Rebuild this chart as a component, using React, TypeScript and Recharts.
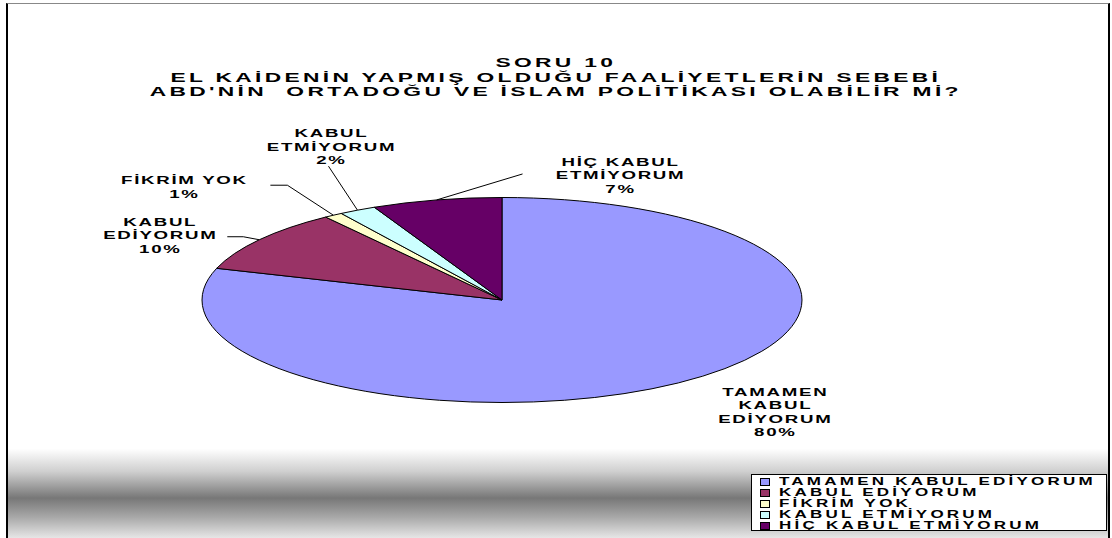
import React from 'react';
import { PieChart, Pie, Cell, Legend } from 'recharts';

const categories = [
  'TAMAMEN KABUL EDİYORUM',
  'KABUL EDİYORUM',
  'FİKRİM YOK',
  'KABUL ETMİYORUM',
  'HİÇ KABUL ETMİYORUM',
];
const values = [80, 10, 1, 2, 7];
const labelLines = [
  ['TAMAMEN', 'KABUL', 'EDİYORUM'],
  ['KABUL', 'EDİYORUM'],
  ['FİKRİM YOK'],
  ['KABUL', 'ETMİYORUM'],
  ['HİÇ KABUL', 'ETMİYORUM'],
];
const titleLines = [
  'SORU 10',
  'EL KAİDENİN YAPMIŞ OLDUĞU FAALİYETLERİN SEBEBİ',
  "ABD'NİN  ORTADOĞU VE İSLAM POLİTİKASI OLABİLİR Mİ?",
];
const colors = ['#9999FF', '#993366', '#FFFFCC', '#CCFFFF', '#660066'];

const data = categories.map((name, i) => ({ name, value: values[i] }));

const FONT = "'Liberation Sans', Arial, Helvetica, sans-serif";
const TILT = 0.3417;
const LABEL_SX = 1.7;
const LABEL_LS = 1;
const LABEL_FS = 11;
const LABEL_PITCH = 13.4;
const RAD = Math.PI / 180;

// label placement relative to the slice's mid-angle anchor on the ellipse edge
const labelLayout = [
  { dx: 97, dy: 13, leader: [] as number[][] },
  { dx: -99, dy: -14, leader: [[-16, -3], [-32, -3]] },
  { dx: -149, dy: -31, leader: [[-46, -30], [-63, -30]] },
  { dx: -26, dy: -73, leader: [[-29, -44]] },
  { dx: 184, dy: -34, leader: [[86, -26]] },
];

function ePoint(cx: number, cy: number, rx: number, ry: number, deg: number) {
  return [cx + rx * Math.cos(deg * RAD), cy - ry * Math.sin(deg * RAD)];
}

function SliceAndLabel(props: any) {
  const { cx, cy, outerRadius, startAngle, endAngle, midAngle, percent, index } = props;
  const rx = outerRadius;
  const ry = outerRadius * TILT;
  const [x1, y1] = ePoint(cx, cy, rx, ry, startAngle);
  const [x2, y2] = ePoint(cx, cy, rx, ry, endAngle);
  const large = Math.abs(endAngle - startAngle) > 180 ? 1 : 0;
  const sweep = endAngle < startAngle ? 1 : 0;
  const d = `M${cx},${cy} L${x1},${y1} A${rx},${ry} 0 ${large} ${sweep} ${x2},${y2} Z`;
  const [ax, ay] = ePoint(cx, cy, rx, ry, midAngle);
  const lay = labelLayout[index];
  const lines = [...labelLines[index], `${Math.round(percent * 100)}%`];
  const leaderPts = [[ax, ay], ...lay.leader.map(([dx, dy]) => [ax + dx, ay + dy])];
  return (
    <g>
      <path d={d} fill={colors[index]} stroke="#000" strokeWidth={1} strokeLinejoin="round" />
      {lay.leader.length > 0 && (
        <polyline
          points={leaderPts.map((p) => p.join(',')).join(' ')}
          fill="none"
          stroke="#000"
          strokeWidth={1}
        />
      )}
      {lines.map((t, k) => (
        <text
          key={k}
          x={0}
          y={0}
          transform={`translate(${ax + lay.dx},${ay + lay.dy + k * LABEL_PITCH}) scale(${LABEL_SX},1)`}
          textAnchor="middle"
          fontFamily={FONT}
          fontWeight="bold"
          fontSize={LABEL_FS}
          letterSpacing={LABEL_LS}
          fill="#000"
          stroke="none"
        >
          {t}
        </text>
      ))}
    </g>
  );
}

function LegendBox(props: any) {
  const payload = [...(props.payload || [])].sort(
    (a: any, b: any) => categories.indexOf(a.value) - categories.indexOf(b.value)
  );
  return (
    <div
      style={{
        border: '1px solid #000',
        background: '#fff',
        width: 356,
        height: 57,
        boxSizing: 'border-box',
        padding: '1px 0 0 8px',
        overflow: 'hidden',
      }}
    >
      {payload.map((entry: any, i: number) => (
        <div key={i} style={{ height: 11, display: 'flex', alignItems: 'center' }}>
          <span
            style={{
              display: 'inline-block',
              width: 8,
              height: 6,
              border: '1px solid #000',
              background: colors[categories.indexOf(entry.value)],
              marginRight: 9,
              flex: 'none',
            }}
          />
          <span
            style={{
              display: 'inline-block',
              transform: 'scaleX(1.7)',
              transformOrigin: 'left center',
              fontSize: 10,
              letterSpacing: 1.9,
              fontWeight: 'bold',
              fontFamily: FONT,
              whiteSpace: 'nowrap',
              lineHeight: '11px',
              color: '#000',
            }}
          >
            {entry.value}
          </span>
        </div>
      ))}
    </div>
  );
}

export default function App() {
  const titleCenters = [62, 77, 91];
  return (
    <div style={{ position: 'absolute', left: 0, top: 0, width: 1112, height: 538, background: '#fff', overflow: 'hidden' }}>
      <div
        style={{
          position: 'absolute',
          left: 6,
          top: 3,
          width: 1100,
          height: 540,
          borderTop: '1px solid #888',
          borderLeft: '2px solid #000',
          borderRight: '2px solid #000',
        }}
      />
      <div
        style={{
          position: 'absolute',
          left: 8,
          top: 443,
          width: 1100,
          height: 95,
          background: 'linear-gradient(to bottom, #ffffff 0%, #ffffff 6%, #cfcfcf 30%, #777777 58%, #a8a8a8 78%, #e6e6e6 100%)',
        }}
      />
      {titleLines.map((t, i) => (
        <div
          key={i}
          style={{
            position: 'absolute',
            left: 0,
            width: 1112,
            top: titleCenters[i] - 7,
            height: 14,
            lineHeight: '14px',
            textAlign: 'center',
          }}
        >
          <span
            style={{
              display: 'inline-block',
              transform: 'scaleX(1.9)',
              transformOrigin: 'center center',
              fontFamily: FONT,
              fontWeight: 'bold',
              fontSize: 12,
              letterSpacing: 1.75,
              whiteSpace: 'pre',
              color: '#000',
            }}
          >
            {t}
          </span>
        </div>
      ))}
      <div style={{ position: 'absolute', left: 0, top: 0 }}>
        <PieChart width={1112} height={538} margin={{ top: 0, right: 0, bottom: 0, left: 0 }}>
          <Pie
            data={data}
            dataKey="value"
            nameKey="name"
            cx={502}
            cy={300}
            outerRadius={300}
            startAngle={90}
            endAngle={-270}
            stroke="none"
            label={SliceAndLabel}
            labelLine={false}
            isAnimationActive={false}
          >
            {data.map((d, i) => (
              <Cell key={d.name} fill={colors[i]} fillOpacity={0} stroke="none" />
            ))}
          </Pie>
          <Legend
            content={LegendBox}
            itemSorter={null as any}
            wrapperStyle={{ left: 751, top: 474, width: 356, height: 57, right: 'auto', bottom: 'auto' }}
          />
        </PieChart>
      </div>
    </div>
  );
}
